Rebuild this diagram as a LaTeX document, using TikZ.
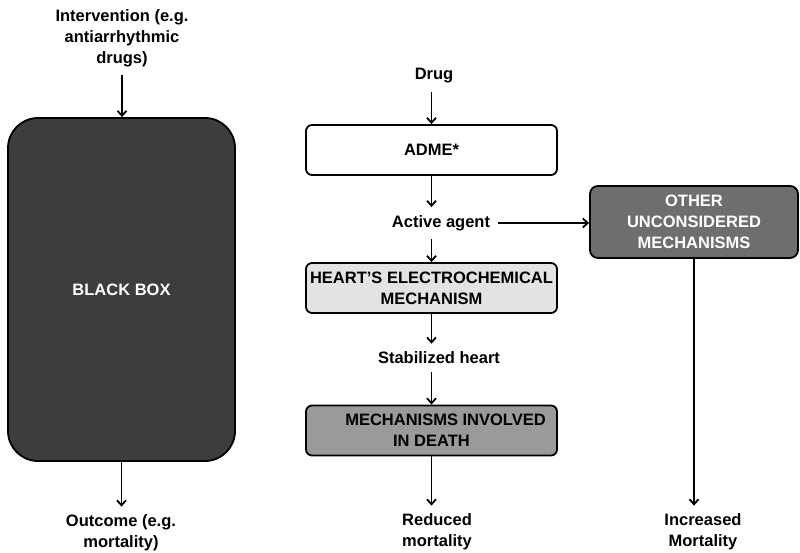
\documentclass[tikz,border=0pt]{standalone}
\usepackage{fontspec}
\setmainfont{Liberation Sans}
\usetikzlibrary{arrows.meta}
\definecolor{boxdark}{HTML}{3D3D3D}
\definecolor{boxother}{HTML}{6E6E6E}
\definecolor{boxlight}{HTML}{E3E3E3}
\definecolor{boxmid}{HTML}{9A9A9A}

\begin{document}
\begin{tikzpicture}[x=1pt,y=-1pt,
  every node/.style={font=\fontsize{16.5}{21}\selectfont\bfseries,align=center},
  lbl/.style={inner sep=8pt},
  mechbox/.style={draw,line width=1.8pt,rounded corners=6pt,
    minimum width=251pt,minimum height=50pt,inner sep=2pt},
  arr/.style={line width=1.8pt,-{Straight Barb[length=5pt,width=9pt]}}]
  \useasboundingbox (0,0) rectangle (800,553);
  % black box view
  \node[lbl] (intv) at (122,38) {Intervention (e.g.\\antiarrhythmic\\drugs)};
  \node[mechbox,fill=boxdark,text=white,rounded corners=30pt,
    minimum width=227pt,minimum height=343pt] (blackbox) at (121.5,289.5) {BLACK BOX};
  \node[lbl] (outcome) at (121,533) {Outcome (e.g.\\mortality)};
  \draw[arr] (intv.south) -- (intv.south |- blackbox.north);
  \draw[arr] (blackbox.south) -- (blackbox.south |- outcome.north);
  % mechanism view
  \node[lbl] (drug) at (434,76) {Drug};
  \node[mechbox,fill=white] (adme) at (431.5,150) {ADME*};
  \node[lbl] (agent) at (441,223) {Active agent};
  \node[mechbox,fill=boxother,text=white,rounded corners=8pt,
    minimum width=208pt,minimum height=72pt] (other) at (694,222)
    {OTHER\\UNCONSIDERED\\MECHANISMS};
  \node[mechbox,fill=boxlight] (heart) at (431.5,288)
    {HEART'S ELECTROCHEMICAL\\MECHANISM};
  \node[lbl] (stable) at (439,358) {Stabilized heart};
  \node[mechbox,fill=boxmid] (death) at (431.5,430.5)
    {\hspace*{28pt}MECHANISMS INVOLVED\\IN DEATH};
  \node[lbl] (reduced) at (437,532) {Reduced\\mortality};
  \node[lbl] (increased) at (703,532) {Increased\\Mortality};
  \draw[arr] (drug.south -| adme.north) -- (adme.north);
  \draw[arr] (adme.south) -- (adme.south |- agent.north);
  \draw[arr] (agent.east) -- (agent.east -| other.west);
  \draw[arr] (agent.south -| heart.north) -- (heart.north);
  \draw[arr] (heart.south) -- (heart.south |- stable.north);
  \draw[arr] (stable.south -| death.north) -- (death.north);
  \draw[arr] (death.south) -- (death.south |- reduced.north);
  \draw[arr] (other.south) -- (other.south |- increased.north);
\end{tikzpicture}
\end{document}
